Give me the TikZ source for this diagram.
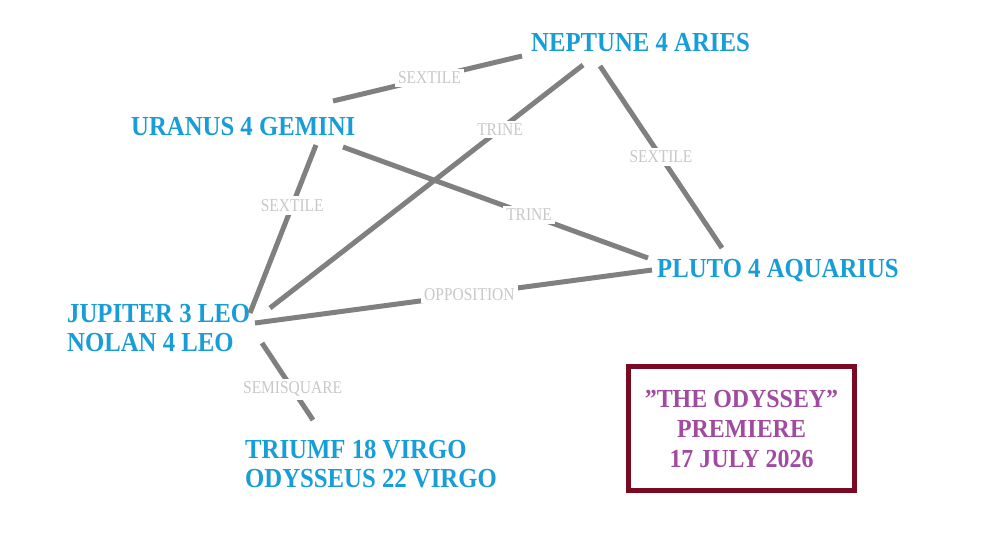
\documentclass[tikz,border=0pt]{standalone}
\usepackage{fontspec}
\setmainfont{Liberation Serif}
\newfontfamily\planetfont[FakeStretch=0.9]{Liberation Serif}
\newfontfamily\labelfont[FakeStretch=0.86]{Liberation Serif}
\newfontfamily\boxfont[FakeStretch=0.92]{Liberation Serif}
\definecolor{planetblue}{RGB}{23,157,215}
\definecolor{aspectgray}{RGB}{200,200,200}
\definecolor{linegray}{RGB}{128,128,128}
\definecolor{boxred}{RGB}{122,10,35}
\definecolor{boxpurple}{RGB}{160,74,160}
\tikzset{
  planet/.style={anchor=west, inner sep=0pt, text=planetblue, align=left,
    font=\planetfont\fontsize{27.5}{29}\selectfont\bfseries},
  aspect/.style={line width=5pt, draw=linegray},
  asplabel/.style={fill=white, inner sep=3pt, text=aspectgray,
    font=\labelfont\fontsize{18}{19}\selectfont},
  premierebox/.style={draw=boxred, line width=5pt, minimum width=226pt,
    minimum height=124pt, align=center, text=boxpurple, inner sep=0pt,
    font=\boxfont\fontsize{26}{30}\selectfont\bfseries}
}
\begin{document}
\begin{tikzpicture}[x=1pt,y=-1pt]
\useasboundingbox[fill=white] (0,0) rectangle (987,555);

\node[planet] (neptune) at (531,43) {NEPTUNE 4 ARIES};
\node[planet] (uranus) at (131,127) {URANUS 4 GEMINI};
\node[planet] (pluto) at (657,271) {PLUTO 4 AQUARIUS};
\node[planet] (jupiter) at (67,328) {JUPITER 3 LEO\\NOLAN 4 LEO};
\node[planet] (triumf) at (245,464) {TRIUMF 18 VIRGO\\ODYSSEUS 22 VIRGO};

\node[premierebox] (premiere) at (741.5,428.5) {”THE ODYSSEY”\\PREMIERE\\17 JULY 2026};

% Uranus - Neptune
\draw[aspect] ([shift={(202,-26)}]uranus.west) -- ([shift={(-9,13)}]neptune.west)
  node[asplabel, pos=0.51] {SEXTILE};
% Neptune - Jupiter
\draw[aspect] ([shift={(52,22)}]neptune.west) -- ([shift={(203,-20)}]jupiter.west)
  node[asplabel, pos=0.265] {TRINE};
% Neptune - Pluto
\draw[aspect] ([shift={(69,23)}]neptune.west) -- ([shift={(65,-23)}]pluto.west)
  node[asplabel, pos=0.5] {SEXTILE};
% Uranus - Pluto
\draw[aspect] ([shift={(212,20)}]uranus.west) -- ([shift={(-9,-13)}]pluto.west)
  node[asplabel, pos=0.61] {TRINE};
% Uranus - Jupiter
\draw[aspect] ([shift={(185,18)}]uranus.west) -- ([shift={(183,-15)}]jupiter.west)
  node[asplabel, pos=0.36] {SEXTILE};
% Jupiter - Pluto
\draw[aspect] ([shift={(188,-5)}]jupiter.west) -- ([shift={(-5,-1)}]pluto.west)
  node[asplabel, pos=0.54] {OPPOSITION};
% Jupiter - Triumf
\draw[aspect] ([shift={(195,15)}]jupiter.west) -- ([shift={(68,-44)}]triumf.west)
  node[asplabel, pos=0.6] {SEMISQUARE};
\end{tikzpicture}
\end{document}
